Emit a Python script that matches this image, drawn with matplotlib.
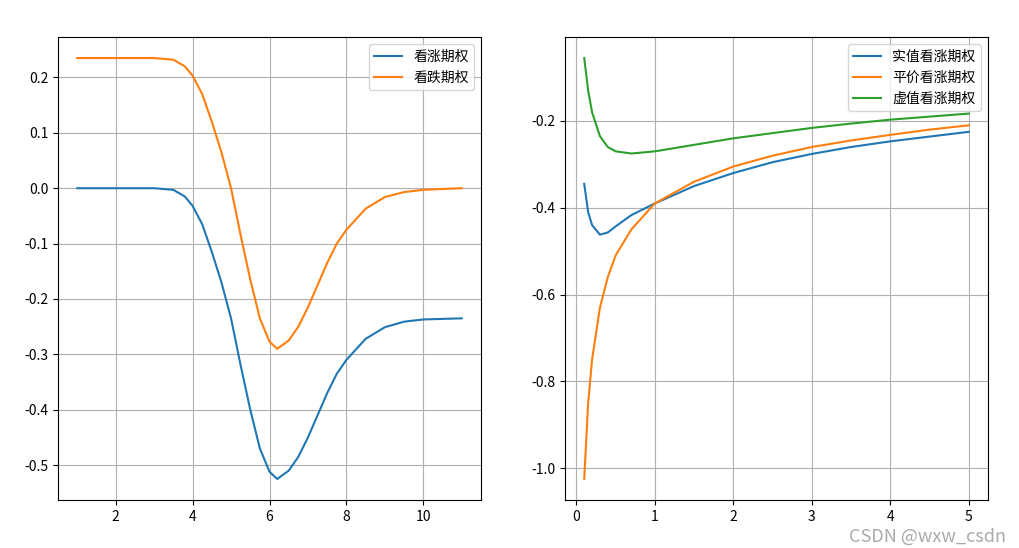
import matplotlib
matplotlib.use("Agg")
import matplotlib.pyplot as plt

plt.rcParams['font.family'] = ['Noto Sans CJK SC', 'DejaVu Sans']
plt.rcParams['axes.unicode_minus'] = False

# left panel: theta vs underlying price
s_vals = [1, 2, 3, 3.5, 3.8, 4.0, 4.25, 4.5, 4.75, 5.0, 5.25, 5.5, 5.75, 6.0, 6.2, 6.5,
          6.75, 7.0, 7.25, 7.5, 7.75, 8.0, 8.5, 9.0, 9.5, 10.0, 11.0]
call_theta = [0, 0, 0, -0.003, -0.015, -0.032, -0.065, -0.115, -0.17, -0.235, -0.32, -0.40,
              -0.47, -0.512, -0.525, -0.51, -0.485, -0.45, -0.41, -0.37, -0.335, -0.31,
              -0.272, -0.251, -0.241, -0.237, -0.235]
put_theta = [0.235, 0.235, 0.235, 0.232, 0.22, 0.203, 0.17, 0.12, 0.065, 0.0, -0.085, -0.165,
             -0.235, -0.277, -0.29, -0.275, -0.25, -0.215, -0.175, -0.135, -0.1, -0.075,
             -0.037, -0.016, -0.007, -0.003, 0.0]

# right panel: theta vs time to maturity
t_vals = [0.1, 0.15, 0.2, 0.3, 0.4, 0.5, 0.7, 1.0, 1.5, 2.0, 2.5, 3.0, 3.5, 4.0, 4.5, 5.0]
itm = [-0.345, -0.41, -0.44, -0.462, -0.457, -0.443, -0.417, -0.39, -0.35, -0.32, -0.295,
       -0.276, -0.26, -0.247, -0.236, -0.225]
atm = [-1.025, -0.85, -0.75, -0.63, -0.56, -0.51, -0.45, -0.39, -0.34, -0.305, -0.28,
       -0.26, -0.245, -0.232, -0.22, -0.21]
otm = [-0.055, -0.13, -0.18, -0.235, -0.26, -0.27, -0.275, -0.27, -0.255, -0.24, -0.228,
       -0.216, -0.206, -0.197, -0.19, -0.183]

fig = plt.figure(figsize=(10.19, 5.48), dpi=100)
ax1 = fig.add_axes([58/1019, 48/548, 423/1019, 463/548])
ax2 = fig.add_axes([565/1019, 48/548, 423/1019, 463/548])

ax1.plot(s_vals, call_theta, label='看涨期权')
ax1.plot(s_vals, put_theta, label='看跌期权')
ax1.grid(True)
ax1.legend(loc='upper right')

ax2.plot(t_vals, itm, label='实值看涨期权')
ax2.plot(t_vals, atm, label='平价看涨期权')
ax2.plot(t_vals, otm, label='虚值看涨期权')
ax2.set_yticks([-1.0, -0.8, -0.6, -0.4, -0.2])
ax2.grid(True)
ax2.legend(loc='upper right')

fig.text(0.987, 0.005, 'CSDN @wxw_csdn', ha='right', va='bottom', fontsize=13, color='#aaaaaa')

fig.savefig('out.png', dpi=100)
